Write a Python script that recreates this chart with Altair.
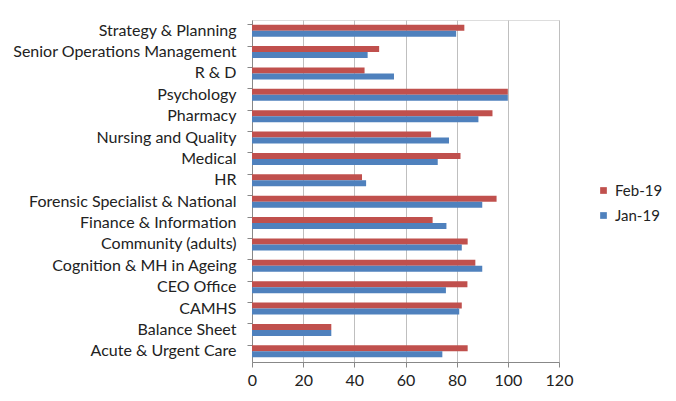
import altair as alt
import pandas as pd

categories = [
    "Strategy & Planning", "Senior Operations Management", "R & D", "Psychology",
    "Pharmacy", "Nursing and Quality", "Medical", "HR",
    "Forensic Specialist & National", "Finance & Information", "Community (adults)",
    "Cognition & MH in Ageing", "CEO Office", "CAMHS", "Balance Sheet", "Acute & Urgent Care",
]
feb19 = [83, 49.7, 44, 100, 94, 70, 81.5, 43, 95.6, 70.6, 84.3, 87.3, 84.2, 82, 31, 84.3]
jan19 = [79.8, 45.2, 55.5, 100, 88.5, 77, 72.6, 44.6, 90, 76, 82, 90, 75.8, 81, 31, 74.4]
series = ["Feb-19", "Jan-19"]
colors = ["#C0504D", "#4F81BD"]
x_ticks = [0, 20, 40, 60, 80, 100, 120]

rows = []
for c, f, j in zip(categories, feb19, jan19):
    rows.append({"cat": c, "series": "Feb-19", "value": f})
    rows.append({"cat": c, "series": "Jan-19", "value": j})
df = pd.DataFrame(rows)

FONT = "Lato"

chart = alt.Chart(df).mark_bar(size=6).encode(
    x=alt.X("value:Q",
            scale=alt.Scale(domain=[0, 120], nice=False),
            axis=alt.Axis(values=x_ticks, title=None, grid=True, gridColor="#BFBFBF",
                          domain=True, domainColor="#888888", tickColor="#888888",
                          tickSize=5, labelFontSize=16, labelColor="#222222",
                          labelFont=FONT, labelPadding=5, labelFlush=False)),
    y=alt.Y("cat:N", sort=categories,
            scale=alt.Scale(paddingInner=0.44, paddingOuter=0.22),
            axis=alt.Axis(title=None, domain=True, domainColor="#888888",
                          ticks=True, tickColor="#888888", tickSize=5, bandPosition=0,
                          labelFontSize=16, labelColor="#222222", labelFont=FONT,
                          labelPadding=11, labelLimit=0)),
    yOffset=alt.YOffset("series:N", sort=series),
    color=alt.Color("series:N", sort=series,
                    scale=alt.Scale(domain=series, range=colors),
                    legend=alt.Legend(title=None, orient="none", legendX=344, legendY=163,
                                      symbolType="square", symbolSize=45,
                                      labelFontSize=15, labelFont=FONT, labelColor="#222222",
                                      rowPadding=9, symbolStrokeWidth=0)),
).properties(
    width=307, height=342,
    autosize=alt.AutoSizeParams(type="none"),
    padding={"left": 244, "top": 12, "right": 109, "bottom": 32},
).configure_view(stroke=None).configure(background="white")

chart.save("out.html", embed_options={"renderer": "svg", "actions": False})
